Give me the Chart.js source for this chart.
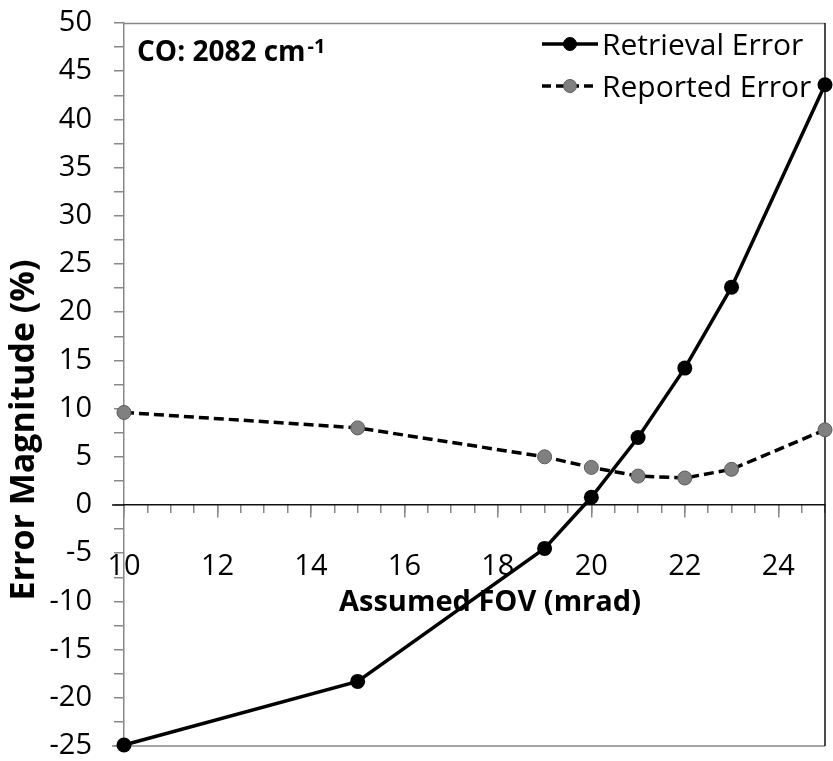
<!DOCTYPE html>
<html><head><meta charset="utf-8">
<script src="https://cdn.jsdelivr.net/npm/chart.js@4"></script>
<style>html,body{margin:0;padding:0;background:#fff}#wrap{width:833px;height:761px}</style>
</head><body><div id="wrap"><canvas id="c" width="833" height="761"></canvas></div>
<script>
// ---- data ----
const fov = [10, 15, 19, 20, 21, 22, 23, 25];
const retrievalError = [-24.9, -18.3, -4.5, 0.8, 7.0, 14.2, 22.6, 43.6];
const reportedError = [9.6, 8.0, 5.0, 3.9, 3.0, 2.8, 3.7, 7.8];
const xTickLabels = [10, 12, 14, 16, 18, 20, 22, 24];
const yTickLabels = [-25, -20, -15, -10, -5, 0, 5, 10, 15, 20, 25, 30, 35, 40, 45, 50];
const seriesNames = ['Retrieval Error', 'Reported Error'];
const xTitle = 'Assumed FOV (mrad)';
const yTitle = 'Error Magnitude (%)';
const chartLabel = 'CO: 2082 cm';
const chartLabelSup = '-1';

const FONT = '"Open Sans", "Noto Sans", sans-serif';
const toXY = (xs, ys) => xs.map((x, i) => ({x: x, y: ys[i]}));

const noPad = s => { s.paddingLeft = 0; s.paddingRight = 0; s.paddingTop = 0; s.paddingBottom = 0; };

const decorPlugin = {
  id: 'decor',
  beforeDatasetsDraw(chart) {
    const ctx = chart.ctx, a = chart.chartArea;
    const y0 = chart.scales.y.getPixelForValue(0);
    ctx.save();
    ctx.lineWidth = 1.5;
    ctx.strokeStyle = '#878787';
    ctx.beginPath(); ctx.moveTo(a.left, a.top + 0.5); ctx.lineTo(a.right, a.top + 0.5); ctx.stroke();
    ctx.beginPath(); ctx.moveTo(a.left - 12, a.bottom); ctx.lineTo(a.right, a.bottom); ctx.stroke();
    ctx.strokeStyle = '#111';
    ctx.beginPath(); ctx.moveTo(a.right, a.top); ctx.lineTo(a.right, a.bottom); ctx.stroke();
    ctx.beginPath(); ctx.moveTo(a.left - 12, y0); ctx.lineTo(a.left, y0); ctx.stroke();
    ctx.restore();
  },
  afterDraw(chart) {
    const ctx = chart.ctx, a = chart.chartArea;
    ctx.save();
    ctx.fillStyle = '#000';
    // axis titles
    ctx.font = 'bold 29px ' + FONT;
    ctx.textAlign = 'center';
    ctx.textBaseline = 'middle';
    ctx.fillText(xTitle, 490, 603);
    ctx.save();
    ctx.translate(24, 430);
    ctx.rotate(-Math.PI / 2);
    ctx.font = 'bold 34px ' + FONT;
    ctx.fillText(yTitle, 0, 0);
    ctx.restore();
    // inner label
    ctx.textBaseline = 'alphabetic';
    ctx.textAlign = 'left';
    ctx.font = 'bold 28px ' + FONT;
    ctx.fillText(chartLabel, 137, 61);
    const w = ctx.measureText(chartLabel).width;
    ctx.font = 'bold 20px ' + FONT;
    ctx.fillText(chartLabelSup, 137 + w + 2, 53);
    // legend
    const rows = [
      {name: seriesNames[0], y: 44, dash: [], fill: '#000', stroke: '#000'},
      {name: seriesNames[1], y: 86, dash: [9, 5], fill: '#808080', stroke: '#5a5a5a'}
    ];
    rows.forEach(r => {
      ctx.setLineDash(r.dash);
      ctx.strokeStyle = '#000';
      ctx.lineWidth = 3.5;
      ctx.beginPath(); ctx.moveTo(542, r.y); ctx.lineTo(598, r.y); ctx.stroke();
      ctx.setLineDash([]);
      ctx.fillStyle = r.fill; ctx.strokeStyle = r.stroke; ctx.lineWidth = 1;
      ctx.beginPath(); ctx.arc(570, r.y, 6.5, 0, Math.PI * 2); ctx.fill(); ctx.stroke();
      ctx.fillStyle = '#000';
      ctx.font = '30px ' + FONT;
      ctx.textBaseline = 'middle';
      ctx.fillText(r.name, 602, r.y + 2);
    });
    ctx.restore();
  }
};

new Chart(document.getElementById('c'), {
  type: 'scatter',
  data: {
    datasets: [
      {
        label: seriesNames[0],
        data: toXY(fov, retrievalError),
        showLine: true,
        borderColor: '#000',
        backgroundColor: '#000',
        borderWidth: 3.5,
        pointRadius: 7.5,
        pointBorderWidth: 0,
        pointBackgroundColor: '#000',
        clip: false,
        xAxisID: 'x', yAxisID: 'y'
      },
      {
        label: seriesNames[1],
        data: toXY(fov, reportedError),
        showLine: true,
        borderColor: '#000',
        borderWidth: 3.5,
        borderDash: [10, 5],
        pointRadius: 7,
        pointBorderWidth: 1,
        pointBorderColor: '#5a5a5a',
        pointBackgroundColor: '#808080',
        clip: false,
        xAxisID: 'x', yAxisID: 'y'
      }
    ]
  },
  options: {
    responsive: false,
    animation: false,
    devicePixelRatio: 1,
    layout: {padding: {top: 23, right: 4, bottom: 15, left: 0}},
    plugins: {legend: {display: false}, tooltip: {enabled: false}},
    scales: {
      y: {
        type: 'linear', position: 'left', min: -25, max: 50,
        afterFit: s => { s.width = 124; noPad(s); },
        ticks: {
          stepSize: 2.5, autoSkip: false, padding: 22, color: '#000',
          font: {family: FONT, size: 29},
          callback: v => yTickLabels.includes(v) ? String(v) : ''
        },
        grid: {drawOnChartArea: false, tickLength: 10, color: '#888', lineWidth: 1.5},
        border: {display: true, color: '#888', width: 1.5},
        title: {display: false}
      },
      xm: {
        type: 'linear', position: {y: 0}, min: 10, max: 25,
        afterFit: s => noPad(s),
        ticks: {display: false, stepSize: 0.5, autoSkip: false},
        grid: {drawOnChartArea: false, tickLength: 8, color: '#888', lineWidth: 1.5},
        border: {display: false}
      },
      x: {
        type: 'linear', position: {y: 0}, min: 10, max: 25,
        afterFit: s => noPad(s),
        ticks: {
          stepSize: 2, autoSkip: false, includeBounds: false, padding: 32, color: '#000',
          maxRotation: 0, font: {family: FONT, size: 29},
          callback: v => xTickLabels.includes(v) ? String(v) : ''
        },
        grid: {drawOnChartArea: false, tickLength: 12, color: '#888', lineWidth: 1.5},
        border: {display: true, color: '#111', width: 1.5},
        title: {display: false}
      }
    }
  },
  plugins: [decorPlugin]
});
</script>
</body></html>
